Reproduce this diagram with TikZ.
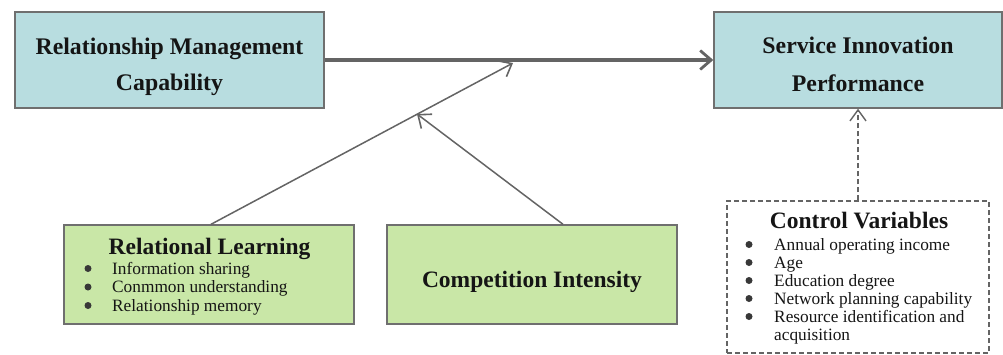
\documentclass[tikz,border=0pt]{standalone}
\usepackage{fontspec}
\setmainfont{Liberation Serif}
\usetikzlibrary{arrows.meta}
\definecolor{boxblue}{HTML}{B8DDE0}
\definecolor{boxgreen}{HTML}{C9E7A7}
\definecolor{edgegray}{HTML}{6F6F6F}
\definecolor{linegray}{HTML}{646464}
\definecolor{inkdark}{HTML}{151515}
\begin{document}
\begin{tikzpicture}[x=1pt,y=-1pt,
  box/.style={draw=edgegray,line width=1.4pt,inner sep=0pt},
  bluebox/.style={box,fill=boxblue},
  greenbox/.style={box,fill=boxgreen},
  ctrlbox/.style={draw=linegray,line width=1.1pt,dash pattern=on 5pt off 3pt,inner sep=0pt},
  headtxt/.style={anchor=base,inner sep=0pt,text=inkdark,font=\fontsize{23.8}{27}\selectfont\bfseries},
  subtxt/.style={anchor=base,inner sep=0pt,text=inkdark,font=\fontsize{23.5}{26}\selectfont\bfseries},
  itemtxt/.style={anchor=base west,inner sep=0pt,text=inkdark,font=\fontsize{17.3}{19}\selectfont},
  dot/.style={circle,fill=inkdark!85,inner sep=0pt,minimum size=7pt},
  mainarrow/.style={draw=linegray,line width=3.2pt,-{Straight Barb[length=11pt,width=19pt,line width=2.8pt]}},
  modarrow/.style={draw=linegray,line width=1.5pt,-{Straight Barb[length=11pt,width=18pt,line width=1.6pt]}},
  ctrlarrow/.style={draw=linegray,line width=1.2pt,dash pattern=on 5pt off 3pt,-{Straight Barb[length=11pt,width=16pt,line width=1.4pt]}}
]
\useasboundingbox (0,0) rectangle (1003,354);
% boxes
\node[bluebox,minimum width=309pt,minimum height=96pt] (rmc) at (169.5,60) {};
\node[bluebox,minimum width=288pt,minimum height=96pt] (sip) at (858,60) {};
\node[greenbox,minimum width=290pt,minimum height=99pt] (rl) at (209,274.5) {};
\node[greenbox,minimum width=290pt,minimum height=99pt] (ci) at (532,274.5) {};
\node[ctrlbox,minimum width=262pt,minimum height=152pt] (cv) at (858,277) {};
% texts
\node[headtxt] (rmc1) at (169.5,54.5) {Relationship Management};
\node[headtxt] (rmc2) at (169.5,90.5) {Capability};
\node[headtxt] (sip1) at (858,53.5) {Service Innovation};
\node[headtxt] (sip2) at (858,91.5) {Performance};
\node[subtxt] (rlt) at (209.5,254) {Relational Learning};
\node[subtxt] (cit) at (532,287) {Competition Intensity};
\node[subtxt] (cvt) at (859,228) {Control Variables};
% relational learning items
\node[itemtxt] (rla) at (112,274) {Information sharing};
\node[itemtxt] (rlb) at (112,292.5) {Conmmon understanding};
\node[itemtxt] (rlc) at (112,311) {Relationship memory};
\foreach \yy [count=\i] in {274,292.5,311} \node[dot] (rldot\i) at (88,\yy-5.5) {};
% control variable items
\node[itemtxt] (cva) at (774,250) {Annual operating income};
\node[itemtxt] (cvb) at (774,268) {Age};
\node[itemtxt] (cvc) at (774,286) {Education degree};
\node[itemtxt] (cvd) at (774,304) {Network planning capability};
\node[itemtxt] (cve) at (774,322) {Resource identification and};
\node[itemtxt] (cvf) at (774,340) {acquisition};
\foreach \yy [count=\i] in {250,268,286,304,322} \node[dot] (cvdot\i) at (749,\yy-5.5) {};
% connectors
\coordinate (mod1) at (513,63);
\coordinate (mod2) at (417,114);
\draw[mainarrow] (rmc.east) -- (sip.west);
\draw[modarrow] ([xshift=2pt]rl.north) -- (mod1);
\draw[modarrow] ([xshift=31pt]ci.north) -- (mod2);
\draw[ctrlarrow] (cv.north) -- (sip.south);
\end{tikzpicture}
\end{document}
